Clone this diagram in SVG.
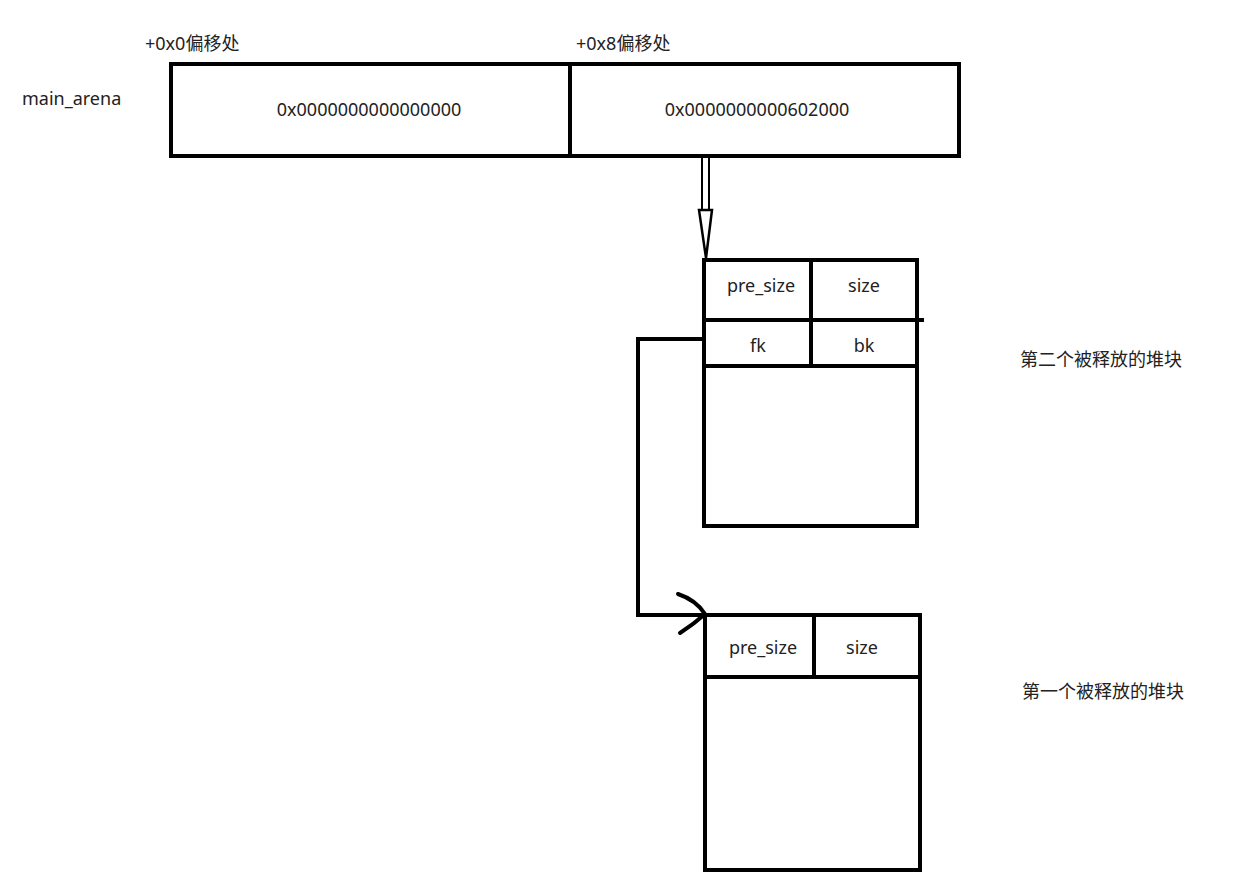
<svg xmlns="http://www.w3.org/2000/svg" width="1245" height="877" viewBox="0 0 1245 877">
<style>
.b{fill:none;stroke:#000;stroke-width:4}
.l{stroke:#000;stroke-width:4;fill:none}
text{font-family:"Noto Sans","Noto Sans CJK SC",sans-serif;font-size:18px;fill:#222}
.c{text-anchor:middle}
</style>
<rect width="1245" height="877" fill="#fff"/>
<g id="main_arena">
<text x="145" y="50">+0x0偏移处</text>
<text x="576" y="50">+0x8偏移处</text>
<text x="22" y="105">main_arena</text>
<rect class="b" x="171" y="64" width="788" height="92"/>
<line class="l" x1="570" y1="64" x2="570" y2="156"/>
<text class="c" x="369" y="116">0x0000000000000000</text>
<text class="c" x="757" y="116">0x0000000000602000</text>
</g>
<g id="chunk2">
<rect class="b" x="704" y="260" width="213" height="266"/>
<line class="l" x1="704" y1="320" x2="924" y2="320"/>
<line class="l" x1="704" y1="366" x2="917" y2="366"/>
<line class="l" x1="811" y1="260" x2="811" y2="366"/>
<text class="c" x="761" y="292">pre_size</text>
<text class="c" x="864" y="292">size</text>
<text class="c" x="758" y="352">fk</text>
<text class="c" x="864" y="352">bk</text>
<text x="1020" y="366">第二个被释放的堆块</text>
</g>
<g id="chunk1">
<rect class="b" x="705" y="615" width="215" height="255"/>
<line class="l" x1="705" y1="677" x2="920" y2="677"/>
<line class="l" x1="814" y1="615" x2="814" y2="677"/>
<text class="c" x="763" y="654">pre_size</text>
<text class="c" x="862" y="654">size</text>
<text x="1022" y="698">第一个被释放的堆块</text>
</g>
<g id="connectors">
<line stroke="#000" stroke-width="2" x1="702" y1="156" x2="702" y2="210"/>
<line stroke="#000" stroke-width="2" x1="709" y1="156" x2="709" y2="210"/>
<path d="M699 210 L712 210 L706 258 Z" fill="#fff" stroke="#000" stroke-width="2.5"/>
<path class="l" d="M704 339 H638 V615 H704"/>
<path class="l" stroke-width="3" stroke-linecap="round" d="M678 594 Q696 600 705 614 Q694 624 680 633"/>
</g>
</svg>
